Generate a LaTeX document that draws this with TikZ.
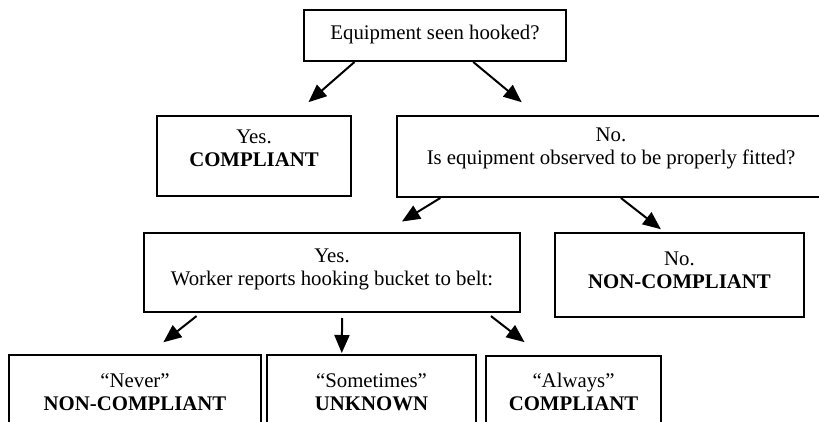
\documentclass[tikz,border=0pt]{standalone}
\usepackage{fontspec}
\setmainfont{Liberation Serif}
\usetikzlibrary{arrows.meta,calc}
\begin{document}
\begin{tikzpicture}[x=1pt,y=1pt,
  box/.style={draw=black, line width=2pt, rectangle, inner sep=0pt},
  txt/.style={align=center, font=\fontsize{20.8}{23}\selectfont, inner sep=0pt},
  arr/.style={line width=2pt, -{Triangle[length=18pt,width=15pt]}}]
\useasboundingbox (0,0) rectangle (819,-421);
\clip (0,0) rectangle (819,-421);
% boxes
\node[box, minimum width=262pt, minimum height=51pt] (top) at (435,-35.5) {};
\node[box, minimum width=194pt, minimum height=80pt] (yes1) at (254,-156) {};
\node[box, minimum width=428pt, minimum height=81pt] (no1) at (611,-156.5) {};
\node[box, minimum width=376pt, minimum height=79pt] (yes2) at (332,-272.5) {};
\node[box, minimum width=249pt, minimum height=84pt] (no2) at (679.5,-275) {};
\node[box, minimum width=252pt, minimum height=95pt] (never) at (135,-402.5) {};
\node[box, minimum width=209pt, minimum height=95pt] (sometimes) at (371.5,-402.5) {};
\node[box, minimum width=175pt, minimum height=95pt] (always) at (573.5,-403.5) {};
% texts
\node[txt] (topt) at (435,-34) {Equipment seen hooked?};
\node[txt] (yes1t) at (254,-148) {Yes.\\\textbf{COMPLIANT}};
\node[txt] (no1t) at (611,-148) {No.\\Is equipment observed to be properly fitted?};
\node[txt] (yes2t) at (332,-269) {Yes.\\Worker reports hooking bucket to belt:};
\node[txt] (no2t) at (679.5,-270) {No.\\\textbf{NON-COMPLIANT}};
\node[txt] (nevert) at (135,-392) {“Never”\\\textbf{NON-COMPLIANT}};
\node[txt] (sometimest) at (371.5,-392) {“Sometimes”\\\textbf{UNKNOWN}};
\node[txt] (alwayst) at (573.5,-392) {“Always”\\\textbf{COMPLIANT}};
% arrows
\draw[arr, shorten >=19.5pt] ($(top.south west)!0.195!(top.south east)$) -- ($(yes1.north west)!0.703!(yes1.north east)$);
\draw[arr, shorten >=20pt] ($(top.south west)!0.645!(top.south east)$) -- ($(no1.north west)!0.328!(no1.north east)$);
\draw[arr, shorten >=20pt] ($(no1.south west)!0.103!(no1.south east)$) -- ($(yes2.north west)!0.640!(yes2.north east)$);
\draw[arr, shorten >=4.5pt] ($(no1.south west)!0.523!(no1.south east)$) -- ($(no2.north west)!0.44!(no2.north east)$);
\draw[arr, shorten <=5pt, shorten >=19pt] ($(yes2.south west)!0.152!(yes2.south east)$) -- ($(never.north west)!0.553!(never.north east)$);
\draw[arr, shorten <=5pt, shorten >=1pt] ($(yes2.south west)!0.527!(yes2.south east)$) -- ($(sometimes.north west)!0.359!(sometimes.north east)$);
\draw[arr, shorten <=5pt, shorten >=21pt] ($(yes2.south west)!0.91!(yes2.south east)$) -- ($(always.north west)!0.317!(always.north east)$);
\end{tikzpicture}
\end{document}
